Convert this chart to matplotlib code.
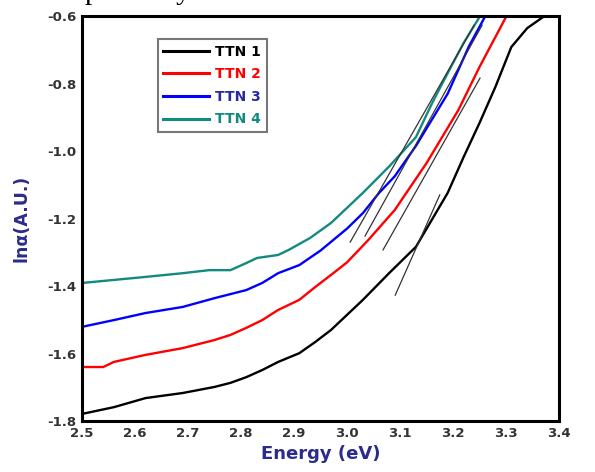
import matplotlib
matplotlib.use("Agg")
import matplotlib.pyplot as plt

plt.rcParams["axes.unicode_minus"] = False

# photon energy (eV) and ln(alpha) for each film
e_ttn1 = [2.50, 2.56, 2.62, 2.69, 2.75, 2.78, 2.81, 2.84, 2.87, 2.91, 2.94, 2.97,
          3.03, 3.08, 3.13, 3.16, 3.19, 3.22, 3.25, 3.28, 3.31, 3.34, 3.37]
a_ttn1 = [-1.779, -1.759, -1.732, -1.717, -1.699, -1.687, -1.670, -1.649, -1.625,
          -1.599, -1.566, -1.530, -1.441, -1.361, -1.284, -1.204, -1.124, -1.018,
          -0.917, -0.810, -0.692, -0.636, -0.603]

e_ttn2 = [2.50, 2.54, 2.56, 2.62, 2.69, 2.75, 2.78, 2.81, 2.84, 2.87, 2.91, 2.94,
          2.97, 3.00, 3.04, 3.09, 3.15, 3.21, 3.25, 3.30]
a_ttn2 = [-1.640, -1.640, -1.625, -1.604, -1.584, -1.560, -1.545, -1.524, -1.501,
          -1.471, -1.441, -1.403, -1.367, -1.330, -1.264, -1.175, -1.036, -0.879,
          -0.751, -0.603]

e_ttn3 = [2.50, 2.56, 2.62, 2.69, 2.75, 2.81, 2.84, 2.87, 2.91, 2.95, 3.00, 3.03,
          3.06, 3.09, 3.13, 3.19, 3.23, 3.26]
a_ttn3 = [-1.521, -1.501, -1.480, -1.462, -1.436, -1.412, -1.391, -1.362, -1.338,
          -1.295, -1.230, -1.184, -1.125, -1.075, -0.985, -0.830, -0.690, -0.603]

e_ttn4 = [2.50, 2.56, 2.62, 2.69, 2.74, 2.78, 2.81, 2.83, 2.87, 2.89, 2.93, 2.97,
          3.03, 3.08, 3.13, 3.16, 3.18, 3.22, 3.25]
a_ttn4 = [-1.391, -1.382, -1.373, -1.362, -1.353, -1.353, -1.332, -1.317, -1.308,
          -1.293, -1.258, -1.213, -1.124, -1.045, -0.959, -0.860, -0.799, -0.680,
          -0.603]

# linear extrapolations used for the band gap (start, end)
tan_x = [(3.006, 3.240), (3.034, 3.255), (3.068, 3.251), (3.091, 3.175)]
tan_y = [(-1.270, -0.627), (-1.252, -0.627), (-1.293, -0.784), (-1.427, -1.130)]

labels = ["TTN 1", "TTN 2", "TTN 3", "TTN 4"]
colors = ["black", "#ff0000", "#0000ff", "#138a80"]
text_colors = ["black", "#ff0000", "#2a2aa0", "#138a80"]

fig = plt.figure(figsize=(5.95, 4.72), dpi=100)
ax = fig.add_axes([0.1378, 0.1080, 0.8017, 0.8581])

series = [(e_ttn1, a_ttn1), (e_ttn2, a_ttn2), (e_ttn3, a_ttn3), (e_ttn4, a_ttn4)]
for (e, a), lab, c in zip(series, labels, colors):
    ax.plot(e, a, color=c, lw=1.7, label=lab)

for tx, ty in zip(tan_x, tan_y):
    ax.plot(tx, ty, color="#333333", lw=0.9)

ax.set_xlim(2.5, 3.4)
ax.set_ylim(-1.8, -0.6)
ax.set_xticks([2.5, 2.6, 2.7, 2.8, 2.9, 3.0, 3.1, 3.2, 3.3, 3.4])
ax.set_yticks([-1.8, -1.6, -1.4, -1.2, -1.0, -0.8, -0.6])
ax.tick_params(length=0, pad=4, labelcolor="#333333")
for t in ax.get_xticklabels() + ax.get_yticklabels():
    t.set_fontweight("bold")
    t.set_fontsize(9.5)
for s in ax.spines.values():
    s.set_linewidth(2.2)

ax.set_xlabel("Energy (eV)", fontsize=13, fontweight="bold", color="#2b2b8c", labelpad=4)
ax.set_ylabel("ln\u03b1(A.U.)", fontsize=12.5, fontweight="bold", color="#2b2b8c", labelpad=12)

leg = ax.legend(loc="upper left", bbox_to_anchor=(0.159, 0.943), frameon=True,
                fancybox=False, handlelength=3.3, handletextpad=0.45,
                labelspacing=0.62, borderpad=0.4, borderaxespad=0,
                prop={"weight": "bold", "size": 10})
leg.get_frame().set_edgecolor("#555555")
leg.get_frame().set_linewidth(1.5)
for txt, c in zip(leg.get_texts(), text_colors):
    txt.set_color(c)
for h in leg.get_lines():
    h.set_linewidth(2.2)

# tail of the caption line above the figure
fig.text(85 / 595, 1 + 1.5 / 472, "pectively", family="Liberation Serif",
         fontsize=21, va="baseline", ha="left")

fig.savefig("out.png", dpi=100)
